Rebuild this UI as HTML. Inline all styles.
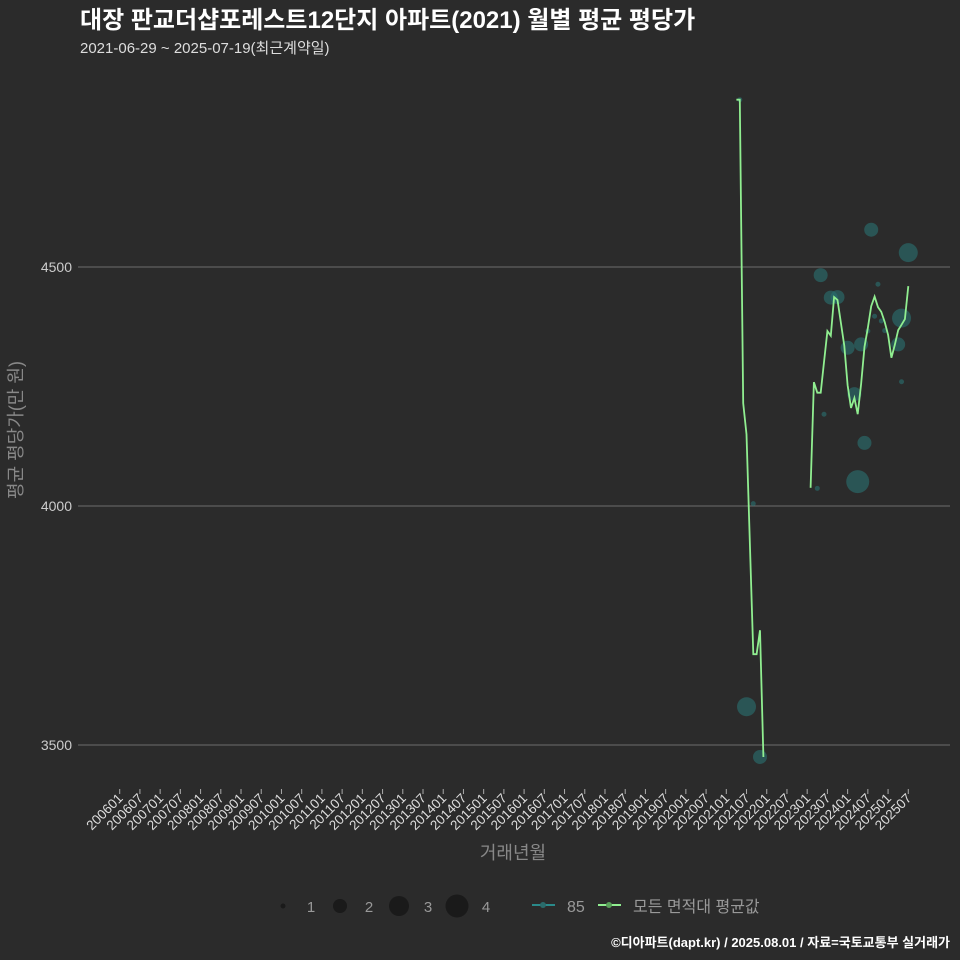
<!DOCTYPE html>
<html><head><meta charset="utf-8">
<style>
html,body{margin:0;padding:0;background:#2b2b2b;}
body{width:960px;height:960px;overflow:hidden;font-family:"Liberation Sans","Noto Sans CJK KR",sans-serif;}
</style></head>
<body>
<svg id="chart" width="960" height="960" xmlns="http://www.w3.org/2000/svg" style="font-family:'Liberation Sans','Noto Sans CJK KR',sans-serif;display:block">
<rect width="960" height="960" fill="#2b2b2b"/>
<text x="80" y="28" fill="#ffffff" font-size="24" font-weight="bold">대장 판교더샵포레스트12단지 아파트(2021) 월별 평균 평당가</text>
<text x="80" y="53" fill="#dddddd" font-size="15">2021-06-29 ~ 2025-07-19(최근계약일)</text>
<g id="grid"></g>
<g id="xaxis"></g>
<g id="series"></g>
<text transform="translate(22,430) rotate(-90)" text-anchor="middle" fill="#888" font-size="18">평균 평당가(만 원)</text>
<text x="513" y="859" text-anchor="middle" fill="#888" font-size="18">거래년월</text>
<g>
 <circle cx="283" cy="906" r="2.5" fill="#1a1a1a"/>
 <text x="311" y="912" text-anchor="middle" fill="#999" font-size="15">1</text>
 <circle cx="340" cy="906" r="7" fill="#1a1a1a"/>
 <text x="369" y="912" text-anchor="middle" fill="#999" font-size="15">2</text>
 <circle cx="399" cy="906" r="10" fill="#1a1a1a"/>
 <text x="428" y="912" text-anchor="middle" fill="#999" font-size="15">3</text>
 <circle cx="457" cy="906" r="11.5" fill="#1a1a1a"/>
 <text x="486" y="912" text-anchor="middle" fill="#999" font-size="15">4</text>
 <line x1="532" y1="905" x2="555" y2="905" stroke="#2a8a8a" stroke-width="2"/>
 <circle cx="543" cy="905" r="3" fill="#2a6b6b"/>
 <text x="567" y="912" fill="#999" font-size="16">85</text>
 <line x1="598" y1="905" x2="621" y2="905" stroke="#90ee90" stroke-width="2"/>
 <circle cx="609" cy="905" r="3" fill="#5aa05a"/>
 <text x="633" y="912" fill="#999" font-size="16">모든 면적대 평균값</text>
</g>
<text x="950" y="947" text-anchor="end" fill="#ffffff" font-size="13" font-weight="bold">©디아파트(dapt.kr) / 2025.08.01 / 자료=국토교통부 실거래가</text>
</svg>
<script>
const yTicks = [3500, 4000, 4500];
// line: [monthIndex since 2006-01, value]
const lineMonths = [183,184,185,186,188,189,190,191, null,
 205,206,207,208,209,210,211,212,213,214,215,216,217,218,219,220,221,222,223,224,225,226,227,228,229,230,231,232,233,234];
const lineValues = [4850,4850,4215,4150,3690,3690,3740,3475, null,
 4038,4259,4237,4237,4301,4366,4356,4437,4431,4383,4335,4253,4205,4226,4192,4255,4333,4372,4418,4438,4416,4406,4385,4358,4310,4337,4368,4379,4391,4460];
const bubbleMonths = [184,188,186,190,223,234,208,211,213,225,232,224,226,227,216,220,231,222,218,209,232,221,219,207];
const bubbleValues = [4850,4005,3580,3475,4578,4530,4483,4436,4437,4464,4393,4397,4387,4367,4331,4338,4338,4366,4234,4192,4260,4132,4051,4037];
const bubbleCounts = [1,1,3,2,2,3,2,2,2,1,3,1,1,1,2,2,2,1,2,1,1,2,4,1];

const NS = 'http://www.w3.org/2000/svg';
const xScale = m => 119.7 + m * 3.37;
const yScale = v => 506 - (v - 4000) * 0.478;
const rScale = c => [0, 2.5, 7, 9.5, 11.5][c];
function mk(tag, attrs, parent){const e=document.createElementNS(NS,tag);for(const k in attrs)e.setAttribute(k,attrs[k]);parent.appendChild(e);return e;}

const grid = document.getElementById('grid');
yTicks.forEach(v=>{
  const l = mk('line',{x1:78,x2:950,y1:yScale(v),y2:yScale(v),stroke:'#6e6e6e','stroke-width':1},grid);
  
  
  const t = mk('text',{x:72,y:yScale(v)+5,'text-anchor':'end',fill:'#cccccc','font-size':14},grid);
  
  
  t.textContent = v;
});

const xaxis = document.getElementById('xaxis');
for(let m=0;m<=234;m+=6){
  const x = xScale(m);
  const y = 2006 + Math.floor(m/12), mo = (m%12)+1;
  const lab = '' + y + (mo<10?'0':'') + mo;
  const tk = mk('line',{x1:x,x2:x,y1:789,y2:794,stroke:'#aaa','stroke-width':1},xaxis);
  
  
  const t = mk('text',{transform:`translate(${x+4},${799}) rotate(-45)`,'text-anchor':'end',fill:'#dddddd','font-size':13.5},xaxis);
  
  
  t.textContent = lab;
}

const series = document.getElementById('series');
bubbleMonths.forEach((m,i)=>{
  const c = mk('circle',{cx:xScale(m),cy:yScale(bubbleValues[i]),r:rScale(bubbleCounts[i]),fill:'#2a7272','fill-opacity':0.6},series);
  
  
});
let segs=[], cur=[];
lineMonths.forEach((m,i)=>{
  if(m===null){segs.push(cur);cur=[];return;}
  cur.push(xScale(m).toFixed(1)+','+yScale(lineValues[i]).toFixed(1));
});
segs.push(cur);
segs.forEach(s=>{
  const p = mk('polyline',{points:s.join(' '),fill:'none',stroke:'#90ee90','stroke-width':1.8},series);
  
  
});
</script>
</body></html>
